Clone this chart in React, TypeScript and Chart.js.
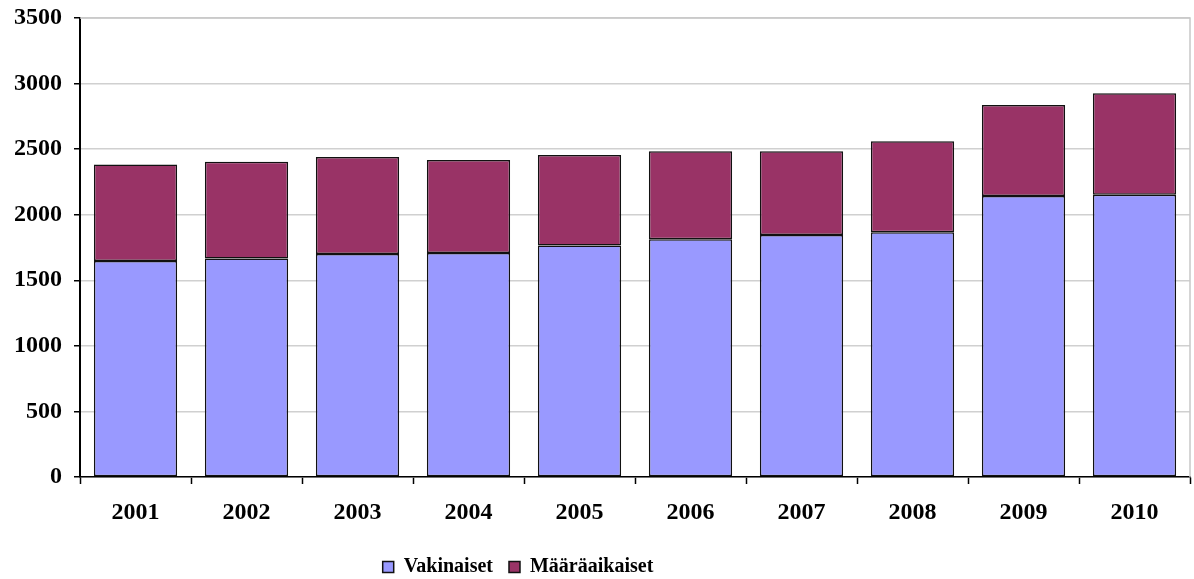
import React, { useEffect, useRef } from "react";
import { Chart, registerables } from "chart.js";

Chart.register(...registerables);

const years = ["2001", "2002", "2003", "2004", "2005", "2006", "2007", "2008", "2009", "2010"];
const vakinaiset = [1648, 1667, 1701, 1709, 1766, 1812, 1846, 1866, 2143, 2153];
const maaraaikaiset = [735, 736, 740, 709, 690, 671, 637, 694, 694, 774];
const seriesNames = ["Vakinaiset", "Määräaikaiset"];

const FONT = "'Liberation Serif', 'Times New Roman', serif";

const frame = {
  id: "frame",
  afterLayout(chart: any) {
    const lg = chart.legend;
    if (lg) {
      lg.left = 0;
      lg.right = 1036;
      lg.top += 8;
      lg.bottom += 8;
    }
  },
  afterDraw(chart: any) {
    const { ctx, chartArea } = chart;
    ctx.save();
    ctx.strokeStyle = "#c8c8c8";
    ctx.lineWidth = 1.5;
    ctx.beginPath();
    ctx.moveTo(chartArea.left, chartArea.top);
    ctx.lineTo(chartArea.right, chartArea.top);
    ctx.lineTo(chartArea.right, chartArea.bottom);
    ctx.stroke();
    ctx.restore();
  },
};

export default function App() {
  const ref = useRef<HTMLCanvasElement | null>(null);
  useEffect(() => {
    if (!ref.current) return;
    const chart = new Chart(ref.current, {
      type: "bar",
      data: {
        labels: years,
        datasets: [
          {
            label: seriesNames[0],
            data: vakinaiset,
            backgroundColor: "#9999FF",
            borderColor: "#111111",
            borderWidth: 1.5,
            borderSkipped: false,
          },
          {
            label: seriesNames[1],
            data: maaraaikaiset,
            backgroundColor: "#993366",
            borderColor: "#111111",
            borderWidth: 1.5,
            borderSkipped: false,
          },
        ],
      },
      options: {
        animation: false,
        responsive: false,
        maintainAspectRatio: false,
        layout: { padding: { top: 18, right: 4, bottom: 0, left: 0 } },
        datasets: { bar: { barPercentage: 0.75, categoryPercentage: 1 } },
        plugins: {
          tooltip: { enabled: false },
          legend: {
            position: "bottom",
            padding: { top: 2, bottom: 4 },
            labels: {
              color: "#000",
              font: { family: FONT, size: 20, weight: "bold" },
              boxWidth: 11,
              boxHeight: 11,
              padding: 16,
            },
          },
        },
        scales: {
          x: {
            stacked: true,
            grid: {
              offset: true,
              drawOnChartArea: false,
              drawTicks: true,
              tickLength: 7,
              tickColor: "#000",
              tickWidth: 1.5,
            },
            border: { color: "#000", width: 1.5 },
            ticks: {
              color: "#000",
              padding: 14,
              font: { family: FONT, size: 24, weight: "bold" },
              maxRotation: 0,
            },
            afterFit(scale: any) {
              scale.height = 56;
            },
          },
          y: {
            stacked: true,
            min: 0,
            max: 3500,
            ticks: {
              stepSize: 500,
              color: "#000",
              padding: 12,
              font: { family: FONT, size: 24, weight: "bold" },
              callback: (v: any) => String(v),
            },
            grid: {
              color: "#d0d0d0",
              lineWidth: 1.5,
              tickLength: 6,
              tickColor: "#000",
              tickWidth: 1.5,
            },
            border: { color: "#000", width: 2 },
            afterFit(scale: any) {
              scale.width = 80;
              scale.paddingTop = 0;
              scale.paddingBottom = 0;
            },
          },
        },
      },
      plugins: [frame],
    } as any);
    return () => chart.destroy();
  }, []);
  return (
    <div style={{ position: "fixed", left: 0, top: 0, width: 1194, height: 579, background: "#fff" }}>
      <canvas ref={ref} width={1194} height={579} style={{ width: 1194, height: 579 }} />
    </div>
  );
}
